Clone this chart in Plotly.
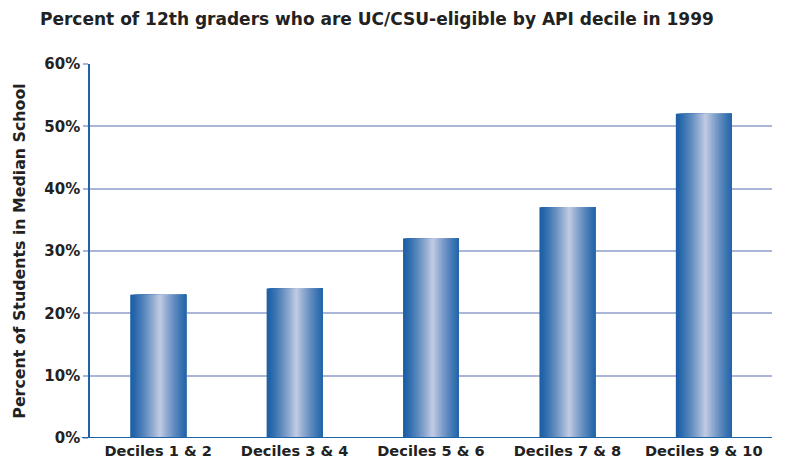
import plotly.graph_objects as go

categories = ["Deciles 1 & 2", "Deciles 3 & 4", "Deciles 5 & 6", "Deciles 7 & 8", "Deciles 9 & 10"]
eligible_pct = [23, 24, 32, 37, 52]
y_ticks = [0, 10, 20, 30, 40, 50, 60]
y_tick_labels = ["0%", "10%", "20%", "30%", "40%", "50%", "60%"]

FONT = "DejaVu Sans"
EDGE = (26, 95, 166)
MID = (196, 204, 228)

# page body has an 8px margin, so the figure is drawn 8px in from the window corner
W, H = 775, 454


def mix(t):
    # t = 0 at edge, 1 at centre
    r, g, b = (int(EDGE[i] + (MID[i] - EDGE[i]) * t) for i in range(3))
    return f"rgb({r},{g},{b})"


fig = go.Figure()

# fake a horizontal gradient: each slice starts a bit further right and runs to the bar's right edge
bar_w = 0.41
n = 40
step = bar_w / n
for i in range(n):
    pos = (i + 0.5) / n
    t = 1 - abs(pos - 0.53) / 0.53
    t = max(0, min(1, t)) ** 1.3
    fig.add_trace(go.Bar(
        x=categories, y=eligible_pct,
        width=bar_w - i * step, offset=-bar_w / 2 + i * step,
        marker=dict(color=mix(t), line=dict(width=0)),
        hoverinfo="skip", showlegend=False,
    ))

fig.update_layout(
    barmode="overlay",
    width=W, height=H,
    margin=dict(l=82, r=11, t=56, b=24),
    plot_bgcolor="white", paper_bgcolor="white",
    font=dict(family=FONT, color="#222222"),
    title=dict(
        text="<b>Percent of 12th graders who are UC/CSU-eligible by API decile in 1999</b>",
        x=32 / W, xanchor="left", y=1 - 11 / H, yanchor="middle",
        font=dict(size=17, family=FONT, color="#222222"),
    ),
    shapes=[dict(type="line", xref="paper", yref="y", x0=-0.012, x1=1, y0=-0.2, y1=-0.2,
                 line=dict(color="#1c63a8", width=4.5), layer="above")],
)

fig.update_xaxes(
    range=[-0.5, 4.5],
    tickvals=categories,
    ticktext=[f"<b>{c}</b>" for c in categories],
    tickfont=dict(size=14.6, family=FONT, color="#222222"),
    showline=False, showgrid=False, automargin=False,
    ticks="", ticklabelstandoff=2,
)
fig.update_yaxes(
    range=[0, 60],
    tickvals=y_ticks,
    ticktext=[f"<b>{t}</b>" for t in y_tick_labels],
    tickfont=dict(size=15, family=FONT, color="#222222"),
    showgrid=True, gridcolor="#aab5d8", gridwidth=2,
    showline=True, linecolor="#1c63a8", linewidth=1.5,
    ticks="outside", ticklen=5, tickcolor="#aab5d8", tickwidth=2,
    zeroline=False, automargin=False,
    title=dict(text="<b>Percent of Students in Median School</b>",
               font=dict(size=15.8, family=FONT, color="#222222"), standoff=15),
)

fig.write_html("out.html")
